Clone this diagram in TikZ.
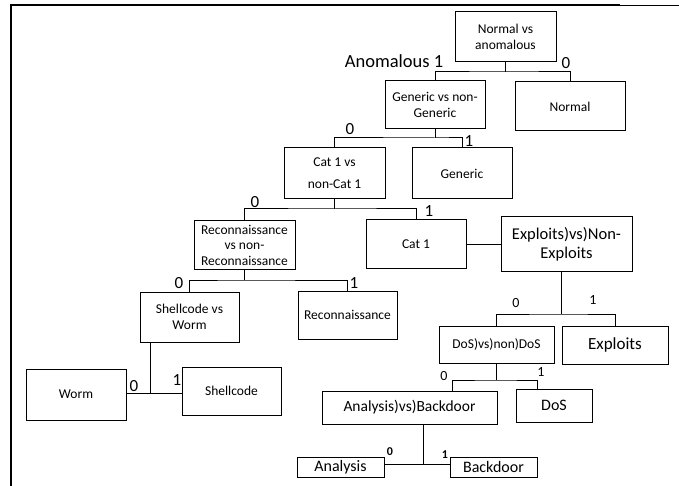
\documentclass[tikz,border=0pt]{standalone}
\usepackage{fontspec}
\setmainfont{Carlito}
\usetikzlibrary{calc}

\tikzset{
  box/.style 2 args={draw,line width=1pt,inner sep=2pt,align=center,
    minimum width=#1,minimum height=#2,font=\fontsize{13.5}{16}\selectfont},
  conn/.style={line width=1pt},
  lbl/.style={inner sep=0pt,font=\fontsize{17}{17}\selectfont},
  smalllbl/.style={inner sep=0pt,font=\fontsize{14}{14}\selectfont},
}

\begin{document}
\begin{tikzpicture}[x=1pt,y=-1pt]
\useasboundingbox (0,0) rectangle (679,486);

% frame
\draw[line width=1.3pt] (11,486) -- (11,5) -- (620,5);
\draw[line width=0.8pt] (620,5) -- (679,5);

% boxes
\node[box={101}{50}] (nva) at (505.5,37) {Normal vs\\anomalous};
\node[box={100}{48}] (genvs) at (435,105) {Generic vs non-\\Generic};
\node[box={110}{49}] (normal) at (570,106.5) {Normal};
\node[box={101}{51},font=\fontsize{13.5}{22}\selectfont] (cat1vs) at (334.5,173.5) {Cat 1 vs\\non-Cat 1};
\node[box={100}{51}] (generic) at (462,173.5) {Generic};
\node[box={101}{48},font=\fontsize{13.5}{15.5}\selectfont] (reconvs) at (244.5,245) {Reconnaissance\\vs non-\\Reconnaissance};
\node[box={100}{48}] (cat1) at (416,244) {Cat 1};
\node[box={131}{54},font=\fontsize{16.5}{19}\selectfont] (expvs) at (566.5,244) {Exploits)vs)Non-\\Exploits};
\node[box={99}{50}] (shellvs) at (189.5,317) {Shellcode vs\\Worm};
\node[box={99}{48}] (recon) at (347.5,315) {Reconnaissance};
\node[box={100}{51}] (worm) at (76,394.5) {Worm};
\node[box={99}{48}] (shellcode) at (231.5,391) {Shellcode};
\node[box={115}{37}] (dosvs) at (496.5,344.5) {DoS)vs)non)DoS};
\node[box={106}{38},font=\fontsize{17}{19}\selectfont] (exploits) at (615,345) {Exploits};
\node[box={175}{33},font=\fontsize{15.5}{18}\selectfont] (anavs) at (409.5,407.5) {Analysis)vs)Backdoor};
\node[box={76}{33},font=\fontsize{16}{18}\selectfont] (dos) at (554,405.5) {DoS};
\node[box={87}{20},font=\fontsize{16}{18}\selectfont,inner sep=1pt] (analysis) at (340.5,467) {Analysis};
\node[box={87}{20},font=\fontsize{16}{18}\selectfont,inner sep=1pt] (backdoor) at (493.5,467) {Backdoor};

% joints
\coordinate (j1) at (505.5,72);
\coordinate (j2) at (435,138);
\coordinate (j3) at (334.5,209);
\coordinate (j4) at (244.5,280);
\coordinate (j5) at (150,393);
\coordinate (j6) at (561,314);
\coordinate (j7) at (496.5,380);
\coordinate (j8) at (423,464);

% connectors
\draw[conn] (nva.south) -- (j1);
\draw[conn] (genvs.north) |- (j1) -| (normal.north);
\draw[conn] (genvs.south) -- (j2);
\draw[conn] (cat1vs.north) |- (j2) -| (generic.north);
\draw[conn] (cat1vs.south) -- (j3);
\draw[conn] (reconvs.north) |- (j3) -| (cat1.north);
\draw[conn] (cat1.east) -- (expvs.west);
\draw[conn] (reconvs.south) -- (j4);
\draw[conn] (shellvs.north) |- (j4) -| (recon.north);
\draw[conn] (shellvs.south -| j5) -- (j5);
\draw[conn] (worm.east |- j5) -- (shellcode.west |- j5);
\draw[conn] (expvs.south -| j6) -- (j6);
\draw[conn] (dosvs.north) |- (j6) -| (exploits.north);
\draw[conn] (dosvs.south) -- (j7);
\draw[conn] ([xshift=42.5pt]anavs.north) |- (j7) -| ([xshift=-17pt]dos.north);
\draw[conn] (anavs.south -| j8) -- (j8);
\draw[conn] ([yshift=3pt]analysis.east) -- ([yshift=3pt]backdoor.west);

% branch labels
\node[lbl,font=\fontsize{18.5}{19}\selectfont] (anom) at (394,61) {Anomalous 1};
\node[lbl] (n0) at (566,63) {0};
\node[lbl] (g0) at (350,129) {0};
\node[lbl] (g1) at (469,141) {1};
\node[lbl] (c0) at (255,202) {0};
\node[lbl] (c1) at (429,211) {1};
\node[lbl] (r0) at (179,283) {0};
\node[lbl] (r1) at (354,283) {1};
\node[lbl] (s0) at (134,386) {0};
\node[lbl] (s1) at (177,380) {1};
\node[smalllbl] (e0) at (516,303) {0};
\node[smalllbl] (e1) at (593,300) {1};
\node[smalllbl] (d0) at (444,376) {0};
\node[smalllbl] (d1) at (541,372) {1};
\node[inner sep=0pt,font=\fontsize{12}{12}\selectfont\bfseries] (a0) at (390,452) {0};
\node[inner sep=0pt,font=\fontsize{12}{12}\selectfont\bfseries] (a1) at (445,455) {1};

\end{tikzpicture}
\end{document}
